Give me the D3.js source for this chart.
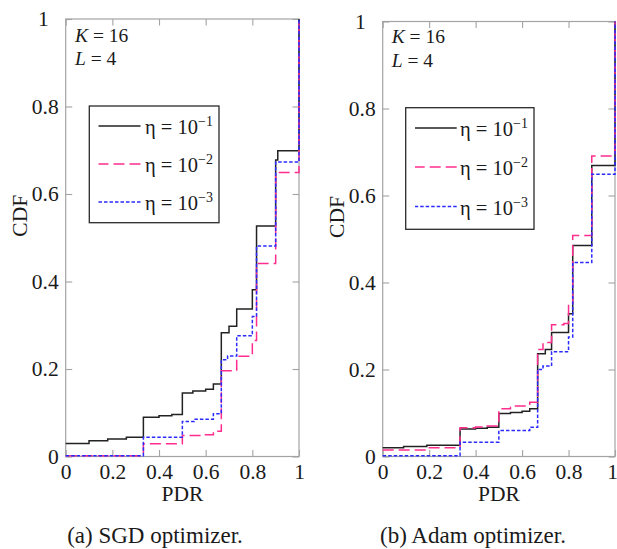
<!DOCTYPE html>
<html>
<head>
<meta charset="utf-8">
<script src="https://cdn.jsdelivr.net/npm/d3@7"></script>
<style>
  html, body { margin: 0; padding: 0; background: #fff; }
  svg { display: block; }
  svg text { font-family: "Liberation Serif", "Times New Roman", serif !important; }
</style>
</head>
<body>
<svg id="chart" width="617" height="549"></svg>
<script>
// CDF of the packet delivery ratio, step points (PDR, CDF) per learning rate.

// (a) SGD optimizer
const sgdPdrA = [0, 0.10, 0.18, 0.26, 0.333, 0.40, 0.455, 0.50, 0.545, 0.60, 0.633, 0.667, 0.70, 0.733, 0.80, 0.818, 0.90, 0.909, 1];
const sgdCdfA = [0.030, 0.036, 0.040, 0.044, 0.090, 0.093, 0.096, 0.145, 0.150, 0.154, 0.166, 0.283, 0.298, 0.337, 0.381, 0.527, 0.678, 0.699, 1];
const sgdPdrB = [0, 0.333, 0.50, 0.583, 0.633, 0.667, 0.733, 0.80, 0.818, 0.90, 1];
const sgdCdfB = [0.002, 0.029, 0.048, 0.050, 0.058, 0.196, 0.229, 0.265, 0.441, 0.649, 1];
const sgdPdrC = [0, 0.333, 0.50, 0.55, 0.633, 0.667, 0.694, 0.733, 0.80, 0.818, 0.90, 1];
const sgdCdfC = [0.002, 0.044, 0.080, 0.085, 0.098, 0.221, 0.230, 0.276, 0.320, 0.481, 0.673, 1];

// (b) Adam optimizer
const adamPdrA = [0, 0.09, 0.19, 0.333, 0.40, 0.45, 0.50, 0.55, 0.60, 0.633, 0.667, 0.70, 0.727, 0.80, 0.818, 0.90, 1];
const adamCdfA = [0.020, 0.023, 0.026, 0.063, 0.065, 0.067, 0.099, 0.101, 0.104, 0.110, 0.236, 0.246, 0.285, 0.328, 0.485, 0.669, 1];
const adamPdrB = [0, 0.19, 0.333, 0.40, 0.45, 0.50, 0.55, 0.633, 0.667, 0.69, 0.727, 0.78, 0.80, 0.818, 0.90, 1];
const adamCdfB = [0.015, 0.020, 0.066, 0.068, 0.070, 0.110, 0.116, 0.125, 0.246, 0.262, 0.303, 0.306, 0.347, 0.508, 0.691, 1];
const adamPdrC = [0, 0.333, 0.50, 0.633, 0.667, 0.69, 0.727, 0.80, 0.818, 0.90, 1];
const adamCdfC = [0.002, 0.033, 0.060, 0.067, 0.200, 0.208, 0.241, 0.275, 0.446, 0.649, 1];

const etaExponents = ["\u22121", "\u22122", "\u22123"];
const tickValues = [0, 0.2, 0.4, 0.6, 0.8, 1];
const panelCaptions = ["(a) SGD optimizer.", "(b) Adam optimizer."];
const annotation = [["K", "16"], ["L", "4"]];

const styles = [
  { color: "#222222", dash: null,    width: 1.5 },
  { color: "#ff2d8e", dash: "11,5",  width: 1.5 },
  { color: "#2b2bff", dash: "3.5,2", width: 1.5 }
];

const panels = [
  {
    x0: 65.7, x1: 299, y0: 456.5, y1: 19,
    series: [[sgdPdrA, sgdCdfA], [sgdPdrB, sgdCdfB], [sgdPdrC, sgdCdfC]],
    caption: panelCaptions[0], captionX: 155, cdfX: 20, lastXShift: 0,
    legend: { x: 89.3, y: 106, w: 129.7, h: 116.7, rowY: [126, 164, 202], lx0: 98.5, lx1: 140.5, tx: 145 },
    note: { x: 75, y: 41.7, dy: 23.3 }
  },
  {
    x0: 382.7, x1: 615, y0: 456.5, y1: 21.5,
    series: [[adamPdrA, adamCdfA], [adamPdrB, adamCdfB], [adamPdrC, adamCdfC]],
    caption: panelCaptions[1], captionX: 473, cdfX: 337, lastXShift: -3,
    legend: { x: 405.7, y: 107.7, w: 128.3, h: 121.6, rowY: [128, 167, 206.5], lx0: 415, lx1: 456.7, tx: 460 },
    note: { x: 391.7, y: 43.3, dy: 23.4 }
  }
];

const svg = d3.select("#chart");
const axisColor = "#a3a3a3";
const textColor = "#1a1a1a";

panels.forEach(p => {
  const x = d3.scaleLinear().domain([0, 1]).range([p.x0, p.x1]);
  const y = d3.scaleLinear().domain([0, 1]).range([p.y0, p.y1]);
  const g = svg.append("g");

  // frame
  g.append("rect")
    .attr("x", p.x0).attr("y", p.y1)
    .attr("width", p.x1 - p.x0).attr("height", p.y0 - p.y1)
    .attr("fill", "none").attr("stroke", axisColor).attr("stroke-width", 1.2);

  const styleAxis = sel => {
    sel.attr("font-family", null).attr("font-size", 21.5);
    sel.select(".domain").remove();
    sel.selectAll(".tick line").attr("stroke", axisColor).attr("stroke-width", 1.1);
    sel.selectAll(".tick text").attr("fill", textColor);
  };

  // inward ticks on all four sides
  const ax = g.append("g").attr("transform", `translate(0,${p.y0})`)
    .call(d3.axisBottom(x).tickValues(tickValues).tickSize(-6.5).tickPadding(7).tickFormat(d3.format("")))
    .call(styleAxis);
  ax.selectAll(".tick text").attr("dy", "0.71em");
  ax.selectAll(".tick").filter(d => d === 1).select("text").attr("x", p.lastXShift);

  g.append("g").attr("transform", `translate(0,${p.y1})`)
    .call(d3.axisTop(x).tickValues(tickValues).tickSize(-6.5).tickFormat(""))
    .call(styleAxis);

  const ay = g.append("g").attr("transform", `translate(${p.x0},0)`)
    .call(d3.axisLeft(y).tickValues(tickValues).tickSize(-6.5).tickPadding(7).tickFormat(d3.format("")))
    .call(styleAxis);
  ay.selectAll(".tick").filter(d => d === 1).select("text").attr("x", -17);

  g.append("g").attr("transform", `translate(${p.x1},0)`)
    .call(d3.axisRight(y).tickValues(tickValues).tickSize(-6.5).tickFormat(""))
    .call(styleAxis);

  // step CDF curves, drawn in legend order
  const line = d3.line().curve(d3.curveStepAfter).x(d => x(d[0])).y(d => y(d[1]));
  p.series.forEach((s, i) => {
    const pts = s[0].map((v, k) => [v, s[1][k]]);
    g.append("path")
      .datum(pts)
      .attr("d", line)
      .attr("fill", "none")
      .attr("stroke", styles[i].color)
      .attr("stroke-width", styles[i].width)
      .attr("stroke-dasharray", styles[i].dash);
  });

  // K and L annotation
  annotation.forEach((a, i) => {
    const t = g.append("text")
      .attr("x", p.note.x).attr("y", p.note.y + i * p.note.dy)
      .attr("font-size", 19.5).attr("fill", textColor);
    t.append("tspan").attr("font-style", "italic").text(a[0]);
    t.append("tspan").text(" = " + a[1]);
  });

  // legend
  const L = p.legend;
  g.append("rect")
    .attr("x", L.x).attr("y", L.y).attr("width", L.w).attr("height", L.h)
    .attr("fill", "#fff").attr("stroke", "#2a2a2a").attr("stroke-width", 1.3);
  styles.forEach((st, i) => {
    g.append("line")
      .attr("x1", L.lx1).attr("x2", L.lx0)
      .attr("y1", L.rowY[i]).attr("y2", L.rowY[i])
      .attr("stroke", st.color).attr("stroke-width", st.width)
      .attr("stroke-dasharray", st.dash);
    const t = g.append("text")
      .attr("x", L.tx).attr("y", L.rowY[i] + 8)
      .attr("font-size", 20.5).attr("fill", textColor);
    t.append("tspan").text("\u03b7 = 10");
    t.append("tspan").attr("font-size", 14).attr("dy", -8).text(etaExponents[i]);
  });

  // axis titles
  g.append("text")
    .attr("x", (p.x0 + p.x1) / 2).attr("y", 501)
    .attr("text-anchor", "middle").attr("font-size", 21.5).attr("fill", textColor)
    .text("PDR");
  g.append("text")
    .attr("transform", `translate(${p.cdfX},${(p.y0 + p.y1) / 2 - 22}) rotate(-90)`)
    .attr("text-anchor", "middle").attr("dominant-baseline", "central")
    .attr("font-size", 21.5).attr("fill", textColor)
    .text("CDF");

  // caption
  g.append("text")
    .attr("x", p.captionX).attr("y", 543)
    .attr("text-anchor", "middle").attr("font-size", 23).attr("fill", textColor)
    .text(p.caption);
});
</script>
</body>
</html>
